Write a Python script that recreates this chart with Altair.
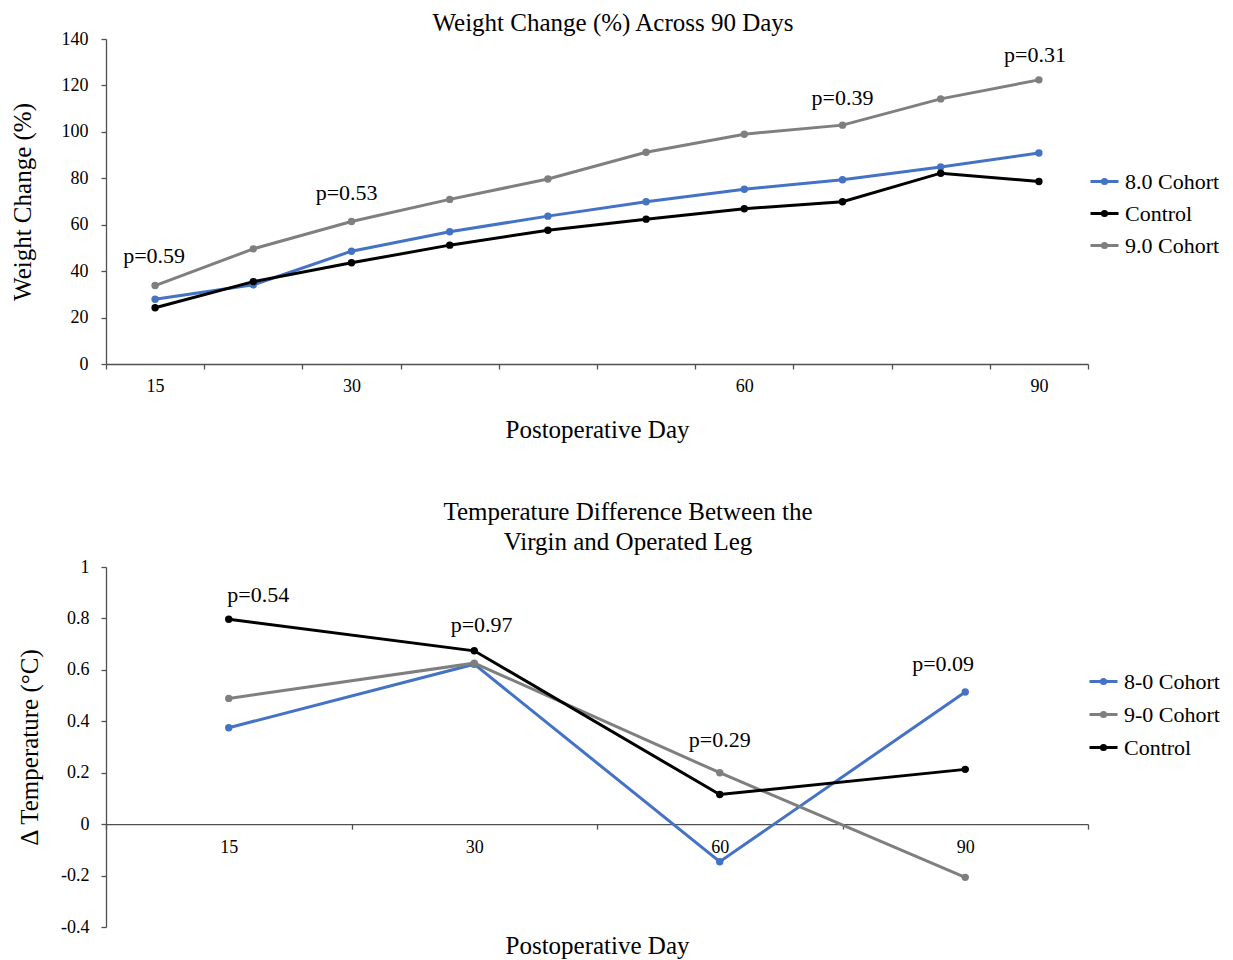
import altair as alt
import pandas as pd

FONT = "Liberation Serif"

# ---------------- Top chart: weight change ----------------
weight_days = ["15", "", "30", "", "", "", "60", "", "", "90"]
weight_idx = [1, 2, 3, 4, 5, 6, 7, 8, 9, 10]
cohort80_weight = [27.9, 34.1, 48.6, 57.0, 63.7, 69.9, 75.3, 79.4, 84.9, 90.9]
control_weight = [24.2, 35.5, 43.6, 51.2, 57.6, 62.4, 66.9, 69.9, 82.2, 78.6]
cohort90_weight = [33.8, 49.6, 61.4, 70.9, 79.7, 91.2, 99.0, 102.9, 114.2, 122.4]
weight_series = ["8.0 Cohort", "Control", "9.0 Cohort"]
weight_colors = ["#4472C4", "#000000", "#7F7F7F"]

p_weight_text = ["p=0.59", "p=0.53", "p=0.39", "p=0.31"]
p_weight_x = [0.99, 2.95, 8.0, 9.96]
p_weight_y = [46.5, 73.7, 114.6, 133.1]

# ---------------- Bottom chart: temperature difference ----------------
temp_days = ["15", "30", "60", "90"]
temp_idx = [1, 2, 3, 4]
cohort80_temp = [0.375, 0.622, -0.146, 0.514]
cohort90_temp = [0.489, 0.626, 0.200, -0.207]
control_temp = [0.797, 0.674, 0.115, 0.213]
temp_series = ["8-0 Cohort", "9-0 Cohort", "Control"]
temp_colors = ["#4472C4", "#7F7F7F", "#000000"]

p_temp_text = ["p=0.54", "p=0.97", "p=0.29", "p=0.09"]
p_temp_x = [1.12, 2.03, 3.0, 3.91]
p_temp_y = [0.891, 0.775, 0.328, 0.623]

# ---------------- layout constants ----------------
W1, H1 = 982, 325
W2, H2 = 982, 360
AXIS_COLOR = "#505050"
LEGEND_PATH = ("M-1,0L1,0M-0.15,0A0.15,0.15,0,1,0,0.15,0"
               "A0.15,0.15,0,1,0,-0.15,0Z")


def label_expr(labels):
    parts = []
    for i, lab in enumerate(labels):
        if lab:
            parts.append(f"datum.value == {i + 0.5} ? '{lab}'")
    return " : ".join(parts) + " : ''"


# data frames
wdf = pd.DataFrame({
    "idx": weight_idx * 3,
    "value": cohort80_weight + control_weight + cohort90_weight,
    "series": sum([[s] * len(weight_idx) for s in weight_series], []),
})
wp = pd.DataFrame({"x": p_weight_x, "y": p_weight_y, "t": p_weight_text})

tdf = pd.DataFrame({
    "idx": temp_idx * 3,
    "value": cohort80_temp + cohort90_temp + control_temp,
    "series": sum([[s] * len(temp_idx) for s in temp_series], []),
})
tp = pd.DataFrame({"x": p_temp_x, "y": p_temp_y, "t": p_temp_text})

# ---------------- top chart ----------------
x1_scale = alt.Scale(domain=[0.5, 10.5], nice=False, zero=False)
y1_scale = alt.Scale(domain=[0, 140], nice=False)

x1_axis = alt.Axis(
    values=[i + 0.5 for i in range(11)], labelExpr=label_expr(weight_days),
    labelOffset=W1 / 20, labelFlush=False, labelOverlap=False, grid=False,
    title="Postoperative Day", titleFont=FONT, titleFontSize=25,
    titleFontWeight="normal", titleColor="#000", titlePadding=22,
    labelFont=FONT, labelFontSize=18, labelColor="#000", labelPadding=8,
    tickSize=5, tickColor=AXIS_COLOR, domainColor=AXIS_COLOR,
    domainWidth=1.3, tickWidth=1.3,
)
y1_axis = alt.Axis(
    values=list(range(0, 141, 20)), grid=False,
    title="Weight Change (%)", titleFont=FONT, titleFontSize=25,
    titleFontWeight="normal", titleColor="#000", titlePadding=26,
    labelFont=FONT, labelFontSize=18, labelColor="#000", labelPadding=13,
    tickSize=5, tickColor=AXIS_COLOR, domainColor=AXIS_COLOR,
    domainWidth=1.3, tickWidth=1.3,
)

w_lines = alt.Chart(wdf).mark_line(
    strokeWidth=3, point=alt.OverlayMarkDef(size=55, filled=True, opacity=1)
).encode(
    x=alt.X("idx:Q", scale=x1_scale, axis=x1_axis),
    y=alt.Y("value:Q", scale=y1_scale, axis=y1_axis),
    color=alt.Color(
        "series:N",
        scale=alt.Scale(domain=weight_series, range=weight_colors),
        legend=alt.Legend(
            title=None, orient="none", legendX=983, legendY=127,
            symbolType=LEGEND_PATH, symbolSize=784, symbolStrokeWidth=3,
            symbolOpacity=1, labelFont=FONT, labelFontSize=22,
            labelColor="#000", rowPadding=5, labelOffset=5, padding=0,
        ),
    ),
    order=alt.Order("idx:Q"),
)
w_text = alt.Chart(wp).mark_text(
    font=FONT, fontSize=22, color="#000", baseline="middle", align="center"
).encode(
    x=alt.X("x:Q", scale=x1_scale),
    y=alt.Y("y:Q", scale=y1_scale),
    text="t:N",
)
top = alt.layer(w_lines, w_text).properties(
    width=W1, height=H1,
    title=alt.TitleParams(
        "Weight Change (%) Across 90 Days", font=FONT, fontSize=25,
        fontWeight="normal", color="#000", anchor="middle", dx=16, offset=-6,
    ),
)

# ---------------- bottom chart ----------------
x2_scale = alt.Scale(domain=[0.5, 4.5], nice=False, zero=False)
y2_scale = alt.Scale(domain=[-0.4, 1], nice=False, zero=False)
zero_from_bottom = 0.4 / 1.4 * H2

x2_axis = alt.Axis(
    values=[i + 0.5 for i in range(5)], labelExpr=label_expr(temp_days),
    labelOffset=W2 / 8, labelFlush=False, labelOverlap=False, grid=False,
    offset=-zero_from_bottom,
    title="Postoperative Day", titleFont=FONT, titleFontSize=25,
    titleFontWeight="normal", titleColor="#000", titleBaseline="middle",
    titleY=121,
    labelFont=FONT, labelFontSize=18, labelColor="#000", labelPadding=9,
    tickSize=5, tickColor=AXIS_COLOR, domainColor=AXIS_COLOR,
    domainWidth=1.3, tickWidth=1.3,
)
y2_axis = alt.Axis(
    values=[-0.4, -0.2, 0, 0.2, 0.4, 0.6, 0.8, 1.0], grid=False,
    labelExpr="'' + (round(datum.value * 10) / 10)",
    title="Δ Temperature (°C)", titleFont=FONT, titleFontSize=25,
    titleFontWeight="normal", titleColor="#000", titlePadding=18,
    labelFont=FONT, labelFontSize=18, labelColor="#000", labelPadding=12,
    tickSize=5, tickColor=AXIS_COLOR, domainColor=AXIS_COLOR,
    domainWidth=1.3, tickWidth=1.3,
)

t_lines = alt.Chart(tdf).mark_line(
    strokeWidth=3, point=alt.OverlayMarkDef(size=55, filled=True, opacity=1)
).encode(
    x=alt.X("idx:Q", scale=x2_scale, axis=x2_axis),
    y=alt.Y("value:Q", scale=y2_scale, axis=y2_axis),
    color=alt.Color(
        "series:N",
        scale=alt.Scale(domain=temp_series, range=temp_colors),
        legend=alt.Legend(
            title=None, orient="none", legendX=982, legendY=99,
            symbolType=LEGEND_PATH, symbolSize=784, symbolStrokeWidth=3,
            symbolOpacity=1, labelFont=FONT, labelFontSize=22,
            labelColor="#000", rowPadding=6, labelOffset=5, padding=0,
        ),
    ),
    order=alt.Order("idx:Q"),
)
t_text = alt.Chart(tp).mark_text(
    font=FONT, fontSize=22, color="#000", baseline="middle", align="center"
).encode(
    x=alt.X("x:Q", scale=x2_scale),
    y=alt.Y("y:Q", scale=y2_scale),
    text="t:N",
)
bottom = alt.layer(t_lines, t_text).properties(
    width=W2, height=H2,
    title=alt.TitleParams(
        ["Temperature Difference Between the", "Virgin and Operated Leg"],
        font=FONT, fontSize=25, fontWeight="normal", color="#000",
        anchor="middle", dx=31, offset=3, lineHeight=30,
    ),
)

chart = alt.vconcat(top, bottom, spacing=58).resolve_scale(
    color="independent"
).properties(
    padding={"left": 2, "top": 3, "right": 0, "bottom": 0},
    background="white",
).configure_view(stroke=None, strokeWidth=0)

chart.save("out.html", embed_options={"renderer": "svg", "actions": False})
